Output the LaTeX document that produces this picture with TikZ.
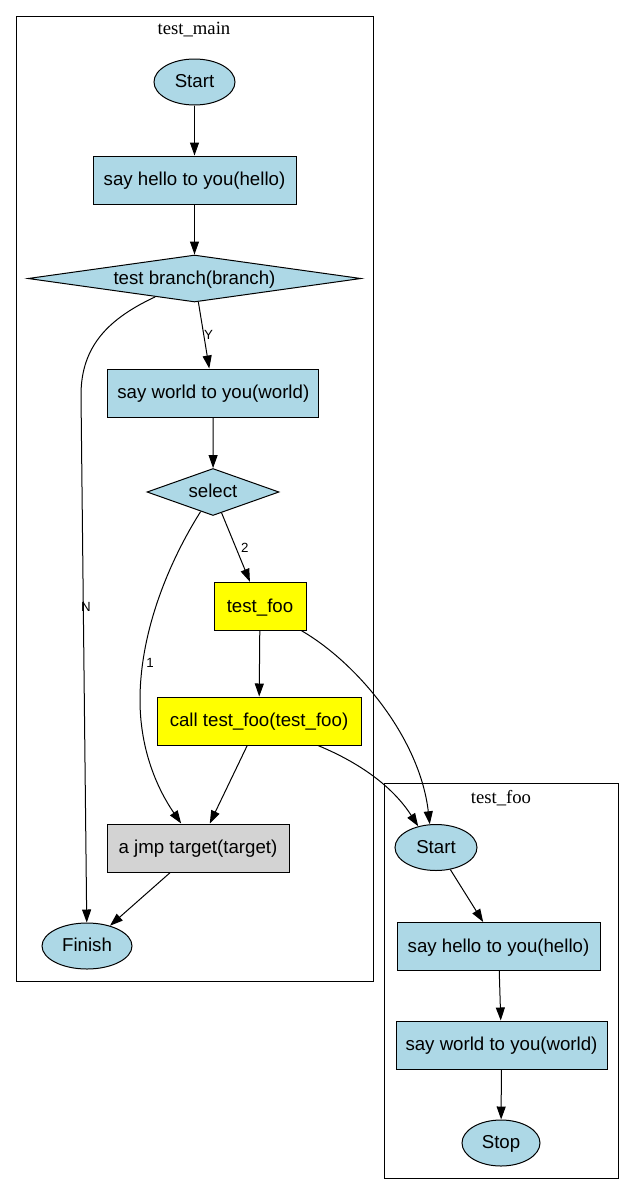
\documentclass[tikz,border=0pt]{standalone}
\usepackage{fontspec}
\setmainfont{Liberation Sans}
\newfontfamily\titlefont{Liberation Serif}
\usetikzlibrary{shapes.geometric,arrows.meta}
\definecolor{lb}{HTML}{ADD8E6}
\definecolor{lg}{HTML}{D3D3D3}
\definecolor{yel}{HTML}{FFFF00}
\begin{document}
\begin{tikzpicture}[x=1pt,y=-1pt,
 base/.style={draw=black, line width=1pt, inner sep=0pt, text height=14pt, text depth=2.5pt, font=\fontsize{18.67}{22}\selectfont},
 boxnode/.style={base, rectangle, minimum height=48pt},
 ellnode/.style={base, ellipse, fill=lb, minimum height=46pt},
 dianode/.style={base, diamond, fill=lb},
 edge/.style={draw=black, line width=1pt, -{Triangle[length=13pt,width=9pt]}},
 elabel/.style={font=\fontsize{13.3}{15}\selectfont, inner sep=0pt},
 cluster/.style={draw=black, line width=1pt},
 ctitle/.style={font=\titlefont\fontsize{18.67}{22}\selectfont, anchor=base, inner sep=0pt}]

\useasboundingbox[fill=white] (0,0) rectangle (635,1195);

% clusters
\draw[cluster] (16,16) rectangle (373,981);
\node[ctitle] (tmain) at (194,34) {test\_main};
\draw[cluster] (384,783) rectangle (618,1178);
\node[ctitle] (tfoo) at (501,803) {test\_foo};

% test_main nodes
\node[ellnode, minimum width=81pt] (mstart) at (194.5,82) {Start};
\node[boxnode, fill=lb, minimum width=203pt] (mhello) at (194.5,180) {say hello to you(hello)};
\node[dianode, minimum width=333pt, minimum height=47pt, aspect=7] (branch) at (194.5,278.5) {test branch(branch)};
\node[boxnode, fill=lb, minimum width=211pt] (mworld) at (213.3,393) {say world to you(world)};
\node[dianode, minimum width=132pt, minimum height=47pt, aspect=2.8] (select) at (213,492) {select};
\node[boxnode, fill=yel, minimum width=92pt] (testfoo) at (260,606.3) {test\_foo};
\node[boxnode, fill=yel, minimum width=204pt] (call) at (259,721) {call test\_foo(test\_foo)};
\node[boxnode, fill=lg, minimum width=182pt] (jmp) at (198,848) {a jmp target(target)};
\node[ellnode, minimum width=90pt] (finish) at (87,946) {Finish};

% test_foo nodes
\node[ellnode, minimum width=82pt] (fstart) at (436,847.5) {Start};
\node[boxnode, fill=lb, minimum width=203pt] (fhello) at (498.5,946.5) {say hello to you(hello)};
\node[boxnode, fill=lb, minimum width=211pt] (fworld) at (501.5,1045) {say world to you(world)};
\node[ellnode, minimum width=78pt] (stop) at (501,1143) {Stop};

% edges
\draw[edge] (mstart) -- (mhello);
\draw[edge] (mhello) -- (branch);
\draw[edge] (branch) -- (mworld);
\draw[edge] (branch) .. controls (110,318) and (81,345) .. (81,395) -- (finish);
\draw[edge] (mworld) -- (select);
\draw[edge] (select) -- (testfoo);
\draw[edge] (select) .. controls (170,560) and (140,630) .. (140,700) .. controls (140,760) and (165,800) .. (jmp);
\draw[edge] (testfoo) -- (call);
\draw[edge] (testfoo) .. controls (360,665) and (420,740) .. (fstart.105);
\draw[edge] (call) -- (jmp);
\draw[edge] (call) .. controls (365,765) and (395,790) .. (fstart.130);
\draw[edge] (jmp) -- (finish);
\draw[edge] (fstart.-57) -- (fhello);
\draw[edge] (fhello) -- (fworld);
\draw[edge] (fworld) -- (stop);

% edge labels
\node[elabel] (lY) at (208.5,334.5) {Y};
\node[elabel] (lN) at (86,607) {N};
\node[elabel] (l2) at (244.7,547.5) {2};
\node[elabel] (l1) at (150,663) {1};
\end{tikzpicture}
\end{document}
